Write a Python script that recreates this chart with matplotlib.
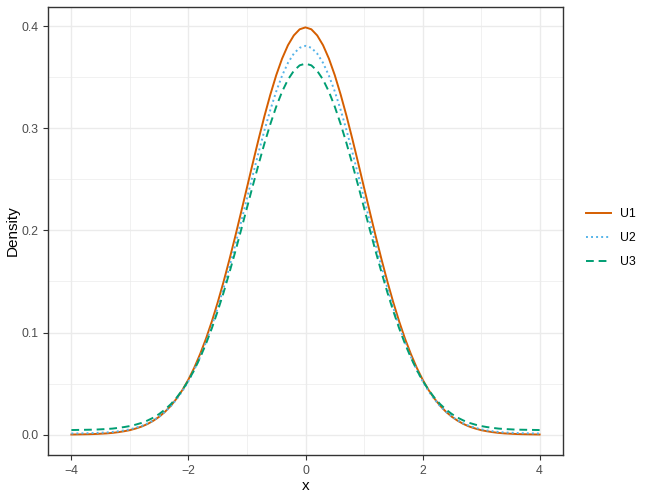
import matplotlib
matplotlib.use("Agg")
import matplotlib.pyplot as plt
from matplotlib.ticker import FixedLocator

plt.rcParams['font.family'] = ['Liberation Sans', 'DejaVu Sans']

x = [-4.0, -3.9, -3.8, -3.7, -3.6, -3.5, -3.4, -3.3, -3.2, -3.1,
     -3.0, -2.9, -2.8, -2.7, -2.6, -2.5, -2.4, -2.3, -2.2, -2.1,
     -2.0, -1.9, -1.8, -1.7, -1.6, -1.5, -1.4, -1.3, -1.2, -1.1,
     -1.0, -0.9, -0.8, -0.7, -0.6, -0.5, -0.4, -0.3, -0.2, -0.1,
     0.0,
     0.1, 0.2, 0.3, 0.4, 0.5, 0.6, 0.7, 0.8, 0.9, 1.0,
     1.1, 1.2, 1.3, 1.4, 1.5, 1.6, 1.7, 1.8, 1.9, 2.0,
     2.1, 2.2, 2.3, 2.4, 2.5, 2.6, 2.7, 2.8, 2.9, 3.0,
     3.1, 3.2, 3.3, 3.4, 3.5, 3.6, 3.7, 3.8, 3.9, 4.0]

u1 = [0.0001, 0.0002, 0.0003, 0.0004, 0.0006, 0.0009, 0.0012, 0.0017, 0.0024, 0.0033,
      0.0044, 0.0060, 0.0079, 0.0104, 0.0136, 0.0175, 0.0224, 0.0283, 0.0355, 0.0440,
      0.0540, 0.0656, 0.0790, 0.0940, 0.1109, 0.1295, 0.1497, 0.1714, 0.1942, 0.2179,
      0.2420, 0.2661, 0.2897, 0.3123, 0.3332, 0.3521, 0.3683, 0.3814, 0.3910, 0.3970,
      0.3989,
      0.3970, 0.3910, 0.3814, 0.3683, 0.3521, 0.3332, 0.3123, 0.2897, 0.2661, 0.2420,
      0.2179, 0.1942, 0.1714, 0.1497, 0.1295, 0.1109, 0.0940, 0.0790, 0.0656, 0.0540,
      0.0440, 0.0355, 0.0283, 0.0224, 0.0175, 0.0136, 0.0104, 0.0079, 0.0060, 0.0044,
      0.0033, 0.0024, 0.0017, 0.0012, 0.0009, 0.0006, 0.0004, 0.0003, 0.0002, 0.0001]

u2 = [0.0011, 0.0012, 0.0013, 0.0014, 0.0016, 0.0019, 0.0021, 0.0026, 0.0033, 0.0041,
      0.0052, 0.0067, 0.0085, 0.0109, 0.0139, 0.0177, 0.0223, 0.0279, 0.0348, 0.0429,
      0.0524, 0.0635, 0.0762, 0.0905, 0.1066, 0.1243, 0.1435, 0.1642, 0.1859, 0.2084,
      0.2314, 0.2543, 0.2768, 0.2983, 0.3182, 0.3362, 0.3516, 0.3641, 0.3732, 0.3789,
      0.3808,
      0.3789, 0.3732, 0.3641, 0.3516, 0.3362, 0.3182, 0.2983, 0.2768, 0.2543, 0.2314,
      0.2084, 0.1859, 0.1642, 0.1435, 0.1243, 0.1066, 0.0905, 0.0762, 0.0635, 0.0524,
      0.0429, 0.0348, 0.0279, 0.0223, 0.0177, 0.0139, 0.0109, 0.0085, 0.0067, 0.0052,
      0.0041, 0.0033, 0.0026, 0.0021, 0.0019, 0.0016, 0.0014, 0.0013, 0.0012, 0.0011]

u3 = [0.0045, 0.0046, 0.0047, 0.0048, 0.0049, 0.0052, 0.0055, 0.0059, 0.0066, 0.0074,
      0.0084, 0.0098, 0.0115, 0.0138, 0.0166, 0.0202, 0.0246, 0.0299, 0.0364, 0.0440,
      0.0530, 0.0634, 0.0755, 0.0890, 0.1042, 0.1210, 0.1391, 0.1587, 0.1792, 0.2005,
      0.2222, 0.2439, 0.2651, 0.2855, 0.3043, 0.3213, 0.3359, 0.3477, 0.3563, 0.3617,
      0.3634,
      0.3617, 0.3563, 0.3477, 0.3359, 0.3213, 0.3043, 0.2855, 0.2651, 0.2439, 0.2222,
      0.2005, 0.1792, 0.1587, 0.1391, 0.1210, 0.1042, 0.0890, 0.0755, 0.0634, 0.0530,
      0.0440, 0.0364, 0.0299, 0.0246, 0.0202, 0.0166, 0.0138, 0.0115, 0.0098, 0.0084,
      0.0074, 0.0066, 0.0059, 0.0055, 0.0052, 0.0049, 0.0048, 0.0047, 0.0046, 0.0045]

series_names = ["U1", "U2", "U3"]
x_ticks = [-4, -2, 0, 2, 4]
x_tick_labels = ["\u22124", "\u22122", "0", "2", "4"]
y_ticks = [0.0, 0.1, 0.2, 0.3, 0.4]
y_tick_labels = ["0.0", "0.1", "0.2", "0.3", "0.4"]

colors = ["#D55E00", "#56B4E9", "#009E73"]
styles = ["-", (0, (1, 1.6)), (0, (4, 2.5))]

fig = plt.figure(figsize=(6.5, 5), dpi=100)
ax = fig.add_axes([0.0738, 0.09, 0.7924, 0.896])

for ys, name, c, ls in zip([u1, u2, u3], series_names, colors, styles):
    ax.plot(x, ys, color=c, linestyle=ls, linewidth=1.4, label=name)

ax.set_xlim(-4.4, 4.4)
ax.set_ylim(-0.01995, 0.41885)
ax.xaxis.set_major_locator(FixedLocator(x_ticks))
ax.xaxis.set_minor_locator(FixedLocator([-3, -1, 1, 3]))
ax.yaxis.set_major_locator(FixedLocator(y_ticks))
ax.yaxis.set_minor_locator(FixedLocator([0.05, 0.15, 0.25, 0.35]))
ax.set_xticklabels(x_tick_labels)
ax.set_yticklabels(y_tick_labels)

ax.grid(True, which='major', color='#EBEBEB', linewidth=1.0)
ax.grid(True, which='minor', color='#EBEBEB', linewidth=0.5)
ax.set_axisbelow(True)
for s in ax.spines.values():
    s.set_color('#333333')
    s.set_linewidth(1.0)
ax.tick_params(which='major', length=3.5, color='#333333', labelsize=8.8, labelcolor='#4D4D4D', width=0.8)
ax.tick_params(which='minor', length=0)

ax.set_xlabel("x", fontsize=11, labelpad=2)
ax.set_ylabel("Density", fontsize=11, labelpad=1)

leg = fig.legend(loc='center left', bbox_to_anchor=(0.885, 0.524), frameon=False,
                 fontsize=8.8, handlelength=2.0, labelspacing=1.0, handletextpad=0.8)

fig.savefig("out.png", dpi=100)
